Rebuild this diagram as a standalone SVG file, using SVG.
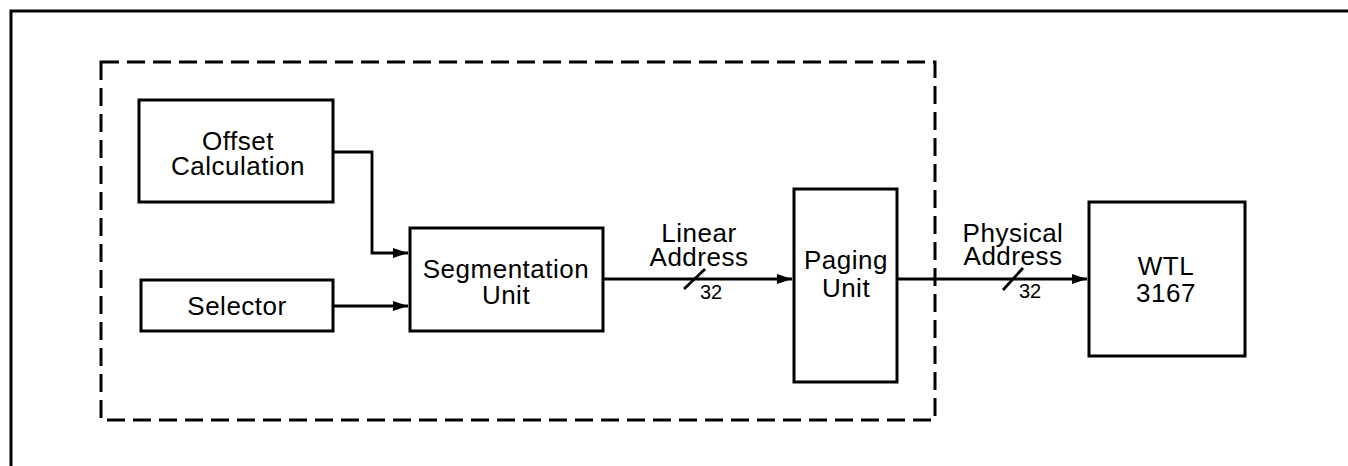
<svg xmlns="http://www.w3.org/2000/svg" width="1348" height="466" viewBox="0 0 1348 466">
<style>
.box{fill:#fff;stroke:#000;stroke-width:3}
.t{font-family:"Liberation Sans",Arial,sans-serif;font-size:26px;letter-spacing:0.5px;fill:#000;text-anchor:middle}
.s{font-family:"Liberation Sans",Arial,sans-serif;font-size:20px;fill:#000;text-anchor:middle}
.ln{fill:none;stroke:#000;stroke-width:2.8}
</style>
<defs>
<marker id="ah" markerWidth="16" markerHeight="12" refX="15" refY="6" orient="auto" markerUnits="userSpaceOnUse">
<path d="M0,1 L15,6 L0,11 Z" fill="#000"/>
</marker>
</defs>
<rect width="1348" height="466" fill="#fff"/>
<path d="M11,466 V11 H1348" fill="none" stroke="#000" stroke-width="3"/>
<rect x="101" y="62" width="834" height="358" fill="none" stroke="#000" stroke-width="3" stroke-dasharray="18 8"/>
<g id="offset"><rect class="box" x="139" y="100" width="194" height="102"/><text class="t" x="238" y="150">Offset</text><text class="t" x="238" y="175">Calculation</text></g>
<g id="selector"><rect class="box" x="141" y="280" width="192" height="51"/><text class="t" x="237" y="315">Selector</text></g>
<g id="segmentation"><rect class="box" x="410" y="228" width="193" height="103"/><text class="t" x="506" y="278">Segmentation</text><text class="t" x="506" y="304">Unit</text></g>
<g id="paging"><rect class="box" x="794" y="189" width="103" height="193"/><text class="t" x="846" y="269">Paging</text><text class="t" x="846" y="297">Unit</text></g>
<g id="wtl"><rect class="box" x="1089" y="202" width="156" height="154"/><text class="t" x="1166" y="275">WTL</text><text class="t" x="1166" y="302">3167</text></g>
<g id="connectors">
<path class="ln" d="M333,152 H372 V253 H408" marker-end="url(#ah)"/>
<path class="ln" d="M333,306 H408" marker-end="url(#ah)"/>
<path class="ln" d="M603,279 H792" marker-end="url(#ah)"/>
<path class="ln" d="M897,279 H1087" marker-end="url(#ah)"/>
<path class="ln" d="M684,289 L705,269"/>
<path class="ln" d="M1003,290 L1023,268"/>
<text class="t" x="699" y="242">Linear</text><text class="t" x="699" y="266">Address</text><text class="s" x="711" y="299">32</text>
<text class="t" x="1013" y="242">Physical</text><text class="t" x="1013" y="265">Address</text><text class="s" x="1030" y="298">32</text>
</g>
</svg>
